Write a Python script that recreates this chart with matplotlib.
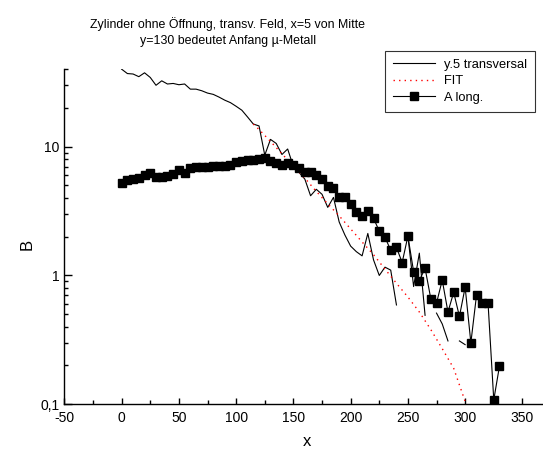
"""Zylinder ohne Oeffnung - B entlang x, transversal vs. longitudinal."""

import numpy as np
import matplotlib
matplotlib.use("Agg")
import matplotlib.pyplot as plt
from matplotlib.ticker import FixedLocator, MultipleLocator, FuncFormatter, NullFormatter

plt.rcParams["font.family"] = ["Liberation Sans", "DejaVu Sans"]
plt.rcParams["axes.unicode_minus"] = False

# y.5 transversal (NaN = missing value, line breaks there)
x_trans = [0, 5, 10, 15, 20, 25, 30, 35, 40, 45, 50, 55, 60, 65, 70, 75, 80, 85, 90, 95,
           100, 105, 110, 115, 120, 125, 130, 135, 140, 145, 150, 155, 160, 165, 170, 175,
           180, 185, 190, 195, 200, 205, 210, 215, 220, 225, 230, 235, 240, 245, 250, 255,
           260, 265, 270, 275, 280, 285, 290, 295, 300]
b_trans = [40, 37, 36.7, 35, 37.5, 34.5, 30, 32.5, 30.7, 31, 30.3, 30.7, 28, 28, 27.2, 26.1,
           25.5, 24.3, 23, 22, 20.6, 19.2, 17, 15, 14.5, 8.6, 11.4, 10.6, 8.7, 9.6, 7.0, 6.3,
           5.6, 4.16, 4.67, 4.27, 3.38, 4.04, 2.6, 2.06, 1.69, 1.53, 1.42, 2.12, 1.32, 1.0,
           1.16, 1.10, 0.59, np.nan, 2.02, 0.82, 1.49, 0.49, np.nan, 0.51, 0.42, 0.31,
           np.nan, 0.31, 0.29]

# FIT
x_fit = [115, 120, 130, 140, 150, 160, 170, 180, 190, 200, 210, 220, 230, 240, 250, 260,
         270, 280, 290, 300]
b_fit = [15.0, 13.6, 11.0, 8.8, 7.1, 5.7, 4.5, 3.6, 2.9, 2.3, 1.82, 1.45, 1.12, 0.87, 0.68,
         0.52, 0.38, 0.27, 0.19, 0.105]

# A long.
x_long = list(range(0, 335, 5))
b_long = [5.2, 5.5, 5.6, 5.7, 6.0, 6.3, 5.85, 5.85, 5.9, 6.1, 6.6, 6.2, 6.8, 7.0, 7.0, 7.0,
          7.1, 7.1, 7.1, 7.2, 7.6, 7.8, 7.9, 7.9, 8.0, 8.1, 7.7, 7.5, 7.2, 7.5, 7.2, 6.8,
          6.4, 6.4, 6.0, 5.6, 4.95, 4.8, 4.1, 4.04, 3.59, 3.12, 2.89, 3.18, 2.78, 2.21, 1.98,
          1.57, 1.65, 1.26, 2.02, 1.07, 0.91, 1.14, 0.66, 0.61, 0.92, 0.52, 0.74, 0.48, 0.81,
          0.30, 0.71, 0.61, 0.61, 0.108, 0.198]

TITLE = "Zylinder ohne Öffnung, transv. Feld, x=5 von Mitte\ny=130 bedeutet Anfang µ-Metall"

fig = plt.figure(figsize=(5.43, 4.5), dpi=100)
ax = fig.add_axes([64.4 / 543, 1 - 404.2 / 450, 1 - 64.4 / 543, (404.2 - 69.2) / 450])

ax.plot(x_trans, b_trans, color="black", lw=0.8, label="y.5 transversal")
ax.plot(x_fit, b_fit, color="red", lw=1.0, ls=(0, (1, 3)), label="FIT")
ax.plot(x_long, b_long, color="black", lw=0.8, marker="s", ms=5.2, label="A long.")

ax.set_yscale("log")
ax.set_xlim(-50, 368)
ax.set_ylim(0.1, 40)
ax.xaxis.set_major_locator(MultipleLocator(50))
ax.xaxis.set_minor_locator(MultipleLocator(25))
ax.yaxis.set_major_locator(FixedLocator([0.1, 1, 10]))
minors = [m * 10.0 ** e for e in (-1, 0, 1) for m in range(2, 10) if m * 10.0 ** e <= 40]
ax.yaxis.set_minor_locator(FixedLocator(minors))
ax.yaxis.set_major_formatter(FuncFormatter(lambda v, _: f"{v:g}".replace(".", ",")))
ax.yaxis.set_minor_formatter(NullFormatter())

for side in ("top", "right"):
    ax.spines[side].set_visible(False)
for side in ("left", "bottom"):
    ax.spines[side].set_linewidth(1.0)
ax.tick_params(axis="both", which="both", direction="in", labelsize=10, width=1.0)
ax.tick_params(axis="x", which="major", length=4)
ax.tick_params(axis="x", which="minor", length=3)
ax.tick_params(axis="y", which="major", length=5.5)
ax.tick_params(axis="y", which="minor", length=3)
ax.tick_params(axis="x", pad=5)

fig.text(307 / 543, 1 - 442 / 450, "x", fontsize=12, ha="center", va="center")
fig.text(27 / 543, 1 - 244 / 450, "B", fontsize=12, ha="center", va="center", rotation=90)
fig.text(228 / 543, 1 - 32 / 450, TITLE, fontsize=8.9, ha="center", va="center",
         linespacing=1.45)

leg = ax.legend(loc="upper left", bbox_to_anchor=(385 / 543, 1 - 51 / 450),
                bbox_transform=fig.transFigure, fontsize=9.3, frameon=True, fancybox=False,
                handlelength=3.3, handletextpad=0.7, borderpad=0.6, labelspacing=0.35,
                borderaxespad=0)
leg.get_frame().set_edgecolor("black")
leg.get_frame().set_linewidth(0.8)

fig.savefig("out.png", dpi=100)
